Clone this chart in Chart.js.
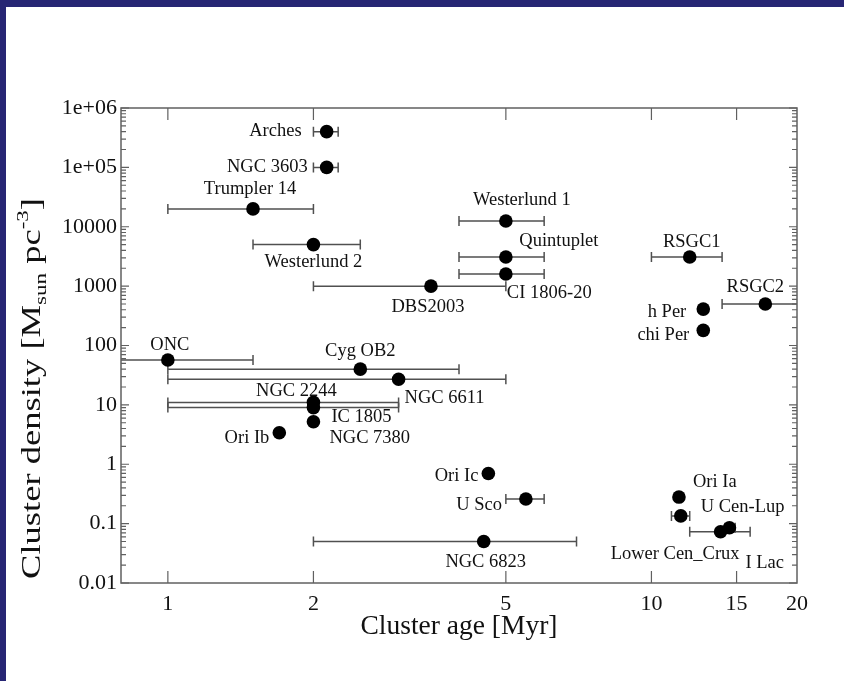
<!DOCTYPE html>
<html><head><meta charset="utf-8">
<script src="https://cdn.jsdelivr.net/npm/chart.js@4/dist/chart.umd.min.js"></script>
<style>html,body{margin:0;padding:0;background:#fff;}#wrap{width:844px;height:681px;position:relative;}</style>
</head><body><div id="wrap"><canvas id="c" width="844" height="681"></canvas></div>
<script>
// ---- data ----
const clusterNames = ['Arches','NGC 3603','Trumpler 14','Westerlund 2','Westerlund 1','Quintuplet','CI 1806-20','DBS2003','RSGC1','RSGC2','h Per','chi Per','ONC','Cyg OB2','NGC 6611','NGC 2244','IC 1805','NGC 7380','Ori Ib','Ori Ic','U Sco','NGC 6823','Ori Ia','U Cen-Lup','Lower Cen_Crux','I Lac'];
const clusterAge = [2.13,2.13,1.5,2.0,5.0,5.0,5.0,3.5,12,17.2,12.8,12.8,1.0,2.5,3.0,2.0,2.0,2.0,1.7,4.6,5.5,4.5,11.4,11.5,13.9,14.5];
const clusterDensity = [4e5,1e5,2e4,5000,12500,3100,1600,1000,3100,500,410,180,57,40,27,11,9,5.2,3.4,0.7,0.26,0.05,0.28,0.135,0.073,0.085];
const ageLow  = [2.0,2.0,1,1.5,4,4,4,2,10,14,null,null,0.5,1,1,1,1,null,null,null,5,2,null,11,12,14.2];
const ageHigh = [2.25,2.25,2,2.5,6,6,6,5,14,22,null,null,1.5,4,5,3,3,null,null,null,6,7,null,12,16,14.9];
const xTickValues = [1,2,5,10,15,20];
const xTickLabels = ['1','2','5','10','15','20'];
const yTickValues = [0.01,0.1,1,10,100,1000,10000,1e5,1e6];
const yTickLabels = ['0.01','0.1','1','10','100','1000','10000','1e+05','1e+06'];

// ---- label layout (offset from marker, alignment) ----
const labelLayout = [
 [-25,0,'right'],[-19,0,'right'],[-3,-20,'center'],[0,18,'center'],[16,-21,'center'],[53,-16,'center'],
 [1,19,'left'],[-3,21,'center'],[2,-15,'center'],[-10,-17,'center'],[-17,3,'right'],[-14,5,'right'],
 [2,-15,'center'],[0,-18,'center'],[6,19,'left'],[-17,-11,'center'],[18,10,'left'],[16,16,'left'],
 [-10,5,'right'],[-10,3,'right'],[-24,6,'right'],[2,21,'center'],[14,-15,'left'],[20,-9,'left'],
 [19,22,'right'],[16,35,'left']
];

const SERIF = '"Liberation Serif","DejaVu Serif",serif';
const points = clusterAge.map((a,i)=>({x:a,y:clusterDensity[i]}));

const plotPlugin = {
  id:'plotDecor',
  beforeDraw(chart){
    const ctx=chart.ctx; ctx.save();
    ctx.fillStyle='#fff'; ctx.fillRect(0,0,chart.width,chart.height);
    ctx.fillStyle='#272674'; ctx.fillRect(0,0,chart.width,7); ctx.fillRect(0,0,6,chart.height);
    ctx.restore();
  },
  beforeDatasetsDraw(chart){
    const ctx=chart.ctx, xs=chart.scales.x, ys=chart.scales.y, a=chart.chartArea;
    ctx.save();
    ctx.beginPath(); ctx.rect(a.left,a.top,a.right-a.left,a.bottom-a.top); ctx.clip();
    ctx.strokeStyle='#505050'; ctx.lineWidth=1.5;
    for(let i=0;i<clusterAge.length;i++){
      if(ageLow[i]==null) continue;
      const y=ys.getPixelForValue(clusterDensity[i]);
      const x1=xs.getPixelForValue(ageLow[i]), x2=xs.getPixelForValue(ageHigh[i]);
      ctx.beginPath();
      ctx.moveTo(x1,y); ctx.lineTo(x2,y);
      ctx.moveTo(x1,y-5); ctx.lineTo(x1,y+5);
      ctx.moveTo(x2,y-5); ctx.lineTo(x2,y+5);
      ctx.stroke();
    }
    ctx.restore();
  },
  afterDatasetsDraw(chart){
    const ctx=chart.ctx, xs=chart.scales.x, ys=chart.scales.y, a=chart.chartArea;
    ctx.save();
    // labels
    ctx.fillStyle='#111'; ctx.font='18.5px '+SERIF; ctx.textBaseline='middle';
    for(let i=0;i<clusterNames.length;i++){
      const px=xs.getPixelForValue(clusterAge[i]), py=ys.getPixelForValue(clusterDensity[i]);
      const L=labelLayout[i];
      ctx.textAlign=L[2]; ctx.fillText(clusterNames[i],px+L[0],py+L[1]);
    }
    // frame
    ctx.strokeStyle='#606060'; ctx.lineWidth=1.5;
    ctx.strokeRect(a.left,a.top,a.right-a.left,a.bottom-a.top);
    ctx.beginPath();
    xTickValues.forEach(v=>{
      const x=xs.getPixelForValue(v);
      if(x>a.left+1 && x<a.right-1){
        ctx.moveTo(x,a.bottom); ctx.lineTo(x,a.bottom-12);
        ctx.moveTo(x,a.top); ctx.lineTo(x,a.top+12);
      }
    });
    yTickValues.forEach((v,k)=>{
      const y=ys.getPixelForValue(v);
      ctx.moveTo(a.left,y); ctx.lineTo(a.left+8,y);
      ctx.moveTo(a.right,y); ctx.lineTo(a.right-8,y);
      if(k<yTickValues.length-1){
        for(let m=2;m<=9;m++){
          const ym=ys.getPixelForValue(v*m);
          ctx.moveTo(a.left,ym); ctx.lineTo(a.left+5,ym);
          ctx.moveTo(a.right,ym); ctx.lineTo(a.right-5,ym);
        }
      }
    });
    ctx.lineWidth=1.2; ctx.stroke();
    // x title
    ctx.fillStyle='#111'; ctx.textAlign='center'; ctx.textBaseline='middle';
    ctx.font='27.5px '+SERIF;
    ctx.fillText('Cluster age [Myr]', (a.left+a.right)/2, 627);
    // y title with sub/superscript
    const big='27px '+SERIF, small='17px '+SERIF;
    const segs=[['Cluster density [M',big,0],['sun',small,6],[' pc',big,0],['-3',small,-12],[']',big,0]];
    let total=0; segs.forEach(s=>{ctx.font=s[1]; total+=ctx.measureText(s[0]).width;});
    const startY=579, endY=198;
    const stretch=(startY-endY)/total;
    ctx.translate(40,startY); ctx.rotate(-Math.PI/2); ctx.scale(stretch,1);
    ctx.textAlign='left'; ctx.textBaseline='alphabetic';
    let cx=0;
    segs.forEach(s=>{ctx.font=s[1]; ctx.fillText(s[0],cx,s[2]); cx+=ctx.measureText(s[0]).width;});
    ctx.restore();
  }
};

new Chart(document.getElementById('c'),{
  type:'scatter',
  data:{datasets:[{data:points,backgroundColor:'#000',borderWidth:0,pointRadius:6.8,pointHoverRadius:6.8}]},
  options:{
    responsive:false,animation:false,events:[],
    layout:{padding:{left:0,right:47,top:108,bottom:0}},
    plugins:{legend:{display:false},tooltip:{enabled:false},title:{display:false}},
    scales:{
      x:{type:'logarithmic',position:'bottom',min:0.8,max:20,
        afterBuildTicks:s=>{s.ticks=xTickValues.map(v=>({value:v}));},
        afterFit:s=>{s.height=98;},
        grid:{display:false,drawTicks:false},border:{display:false},
        ticks:{autoSkip:false,maxRotation:0,padding:8,color:'#111',font:{family:SERIF,size:22},
          callback:(v,i)=>xTickLabels[i]}},
      y:{type:'logarithmic',position:'left',min:0.01,max:1e6,
        afterBuildTicks:s=>{s.ticks=yTickValues.map(v=>({value:v}));},
        afterFit:s=>{s.width=121;},
        grid:{display:false,drawTicks:false},border:{display:false},
        ticks:{autoSkip:false,padding:4,color:'#111',font:{family:SERIF,size:22},
          callback:(v,i)=>yTickLabels[i]}}
    }
  },
  plugins:[plotPlugin]
});
</script></body></html>
